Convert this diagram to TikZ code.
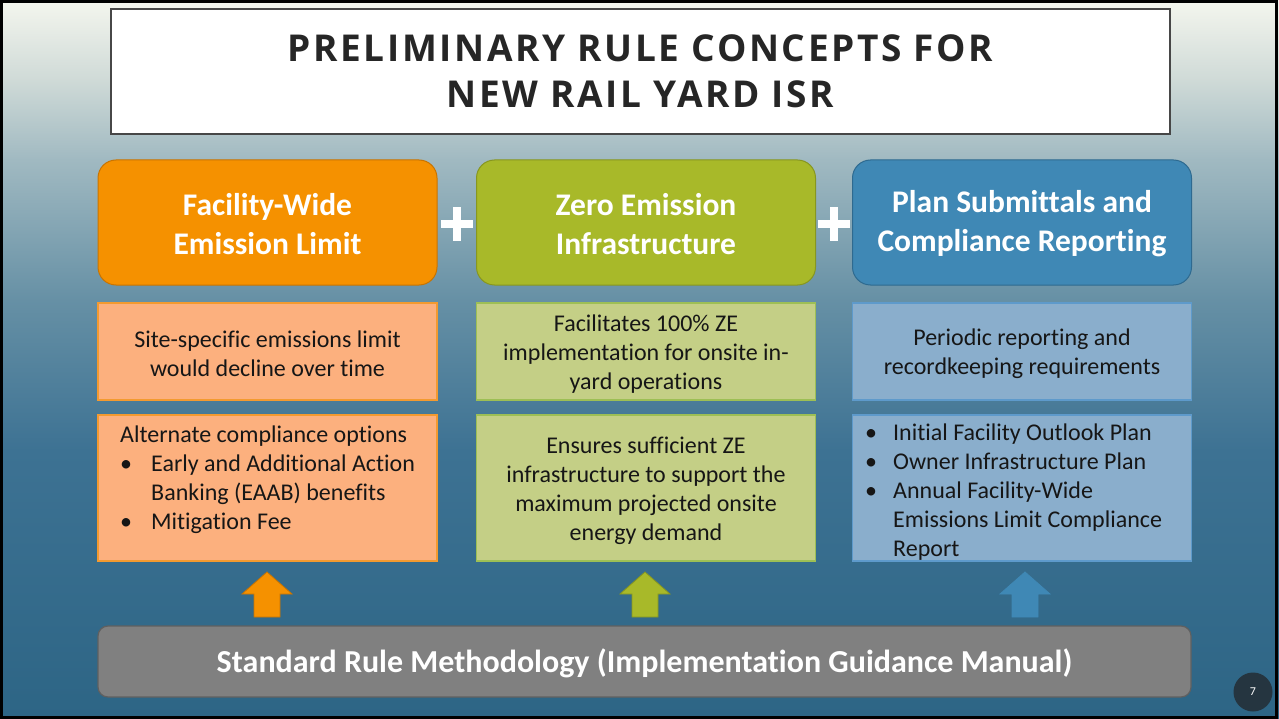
\documentclass[tikz,border=0pt]{standalone}
\usepackage{fontspec}
\setmainfont[Ligatures=NoCommon]{Carlito}
\newfontfamily\titlefont[LetterSpace=7]{Open Sans}
\definecolor{bgA}{HTML}{F4F6EE}
\definecolor{bgB}{HTML}{CFDAD7}
\definecolor{bgC}{HTML}{A0B9C1}
\definecolor{bgD}{HTML}{6690A5}
\definecolor{bgE}{HTML}{3D7293}
\definecolor{bgF}{HTML}{2D6585}
\definecolor{orT}{HTML}{F59100}
\definecolor{orTd}{HTML}{C97400}
\definecolor{orL}{HTML}{FCB07E}
\definecolor{orLd}{HTML}{F39A30}
\definecolor{grT}{HTML}{A8B929}
\definecolor{grTd}{HTML}{879620}
\definecolor{grL}{HTML}{C4CF86}
\definecolor{grLd}{HTML}{9DBF55}
\definecolor{blT}{HTML}{3F88B5}
\definecolor{blTd}{HTML}{2E6A90}
\definecolor{blL}{HTML}{8AAECC}
\definecolor{blLd}{HTML}{5E9ACB}
\definecolor{barG}{HTML}{808080}
\definecolor{barGd}{HTML}{606060}
\definecolor{txt}{HTML}{161616}
\definecolor{ttl}{HTML}{262626}
\definecolor{pgc}{HTML}{253540}
\newcommand\bulit{\makebox[31pt][l]{\textbullet}}
\newcommand\hang{\hspace*{31pt}}
\newcommand\uparr[3]{\filldraw[fill=#2,draw=#3,line width=0.8pt] (#1) ++(-13,0) -- ++(0,-23) -- ++(-12,0) -- ++(25,-22) -- ++(25,22) -- ++(-12,0) -- ++(0,23) -- cycle;}
\begin{document}
\begin{tikzpicture}[x=1pt,y=-1pt,
  topbox/.style={rounded corners=18pt, line width=1pt, minimum width=339pt, minimum height=125pt},
  toptext/.style={align=center, text=white, inner sep=0pt, font=\bfseries\fontsize{31.5}{39}\selectfont},
  midbox/.style={line width=1.2pt, minimum width=339pt, minimum height=97pt},
  lowbox/.style={line width=1.2pt, minimum width=339pt, minimum height=146pt},
  lowtext/.style={text=txt, font=\fontsize{24}{29}\selectfont, inner sep=0pt},
  plusline/.style={white, line width=8pt},
]
\useasboundingbox (0,0) rectangle (1279,719);
% background
\shade[top color=bgA, bottom color=bgB] (0,0) rectangle (1279,80.5);
\shade[top color=bgB, bottom color=bgC] (0,80) rectangle (1279,160.5);
\shade[top color=bgC, bottom color=bgD] (0,160) rectangle (1279,300.5);
\shade[top color=bgD, bottom color=bgE] (0,300) rectangle (1279,450.5);
\shade[top color=bgE, bottom color=bgF] (0,450) rectangle (1279,719);
\draw[black, line width=3pt] (1.5,1.5) rectangle (1276.5,717.5);
% title
\node[draw=ttl!85, line width=2.5pt, fill=white, minimum width=1059pt, minimum height=125pt, align=center, text=ttl, font=\titlefont\bfseries\fontsize{37}{46}\selectfont] (title) at (640.5,71.5) {PRELIMINARY RULE CONCEPTS FOR\\NEW RAIL YARD ISR};
% top boxes
\node[topbox, fill=orT, draw=orTd] (fw) at (267.5,222.5) {};
\node[topbox, fill=grT, draw=grTd] (ze) at (646,222.5) {};
\node[topbox, fill=blT, draw=blTd] (ps) at (1022,222.5) {};
\node[toptext] at ([yshift=-1.5pt]fw.center) {Facility-Wide\\Emission Limit};
\node[toptext] at ([yshift=-1.5pt]ze.center) {Zero Emission\\Infrastructure};
\node[toptext] at ([yshift=-1.5pt]ps.center) {Plan Submittals and\\Compliance Reporting};
% plus signs
\coordinate (p1) at (457,224);
\coordinate (p2) at (834,224);
\draw[plusline] ([xshift=-16pt]p1) -- ([xshift=16pt]p1);
\draw[plusline] ([yshift=-17pt]p1) -- ([yshift=17pt]p1);
\draw[plusline] ([xshift=-16pt]p2) -- ([xshift=16pt]p2);
\draw[plusline] ([yshift=-17pt]p2) -- ([yshift=17pt]p2);
% middle boxes
\node[midbox, fill=orL, draw=orLd] (m1) at (267.5,351.5) {};
\node[midbox, fill=grL, draw=grLd] (m2) at (646,351.5) {};
\node[midbox, fill=blL, draw=blLd] (m3) at (1022,351.5) {};
\node[lowtext, align=center] at ([yshift=-2pt]m1.center) {Site-specific emissions limit\\would decline over time};
\node[lowtext, align=center] at ([yshift=-3pt]m2.center) {Facilitates 100\% ZE\\implementation for onsite in-\\yard operations};
\node[lowtext, align=center] at ([yshift=-2pt]m3.center) {Periodic reporting and\\recordkeeping requirements};
% lower boxes
\node[lowbox, fill=orL, draw=orLd] (l1) at (267.5,488) {};
\node[lowbox, fill=grL, draw=grLd] (l2) at (646,488) {};
\node[lowbox, fill=blL, draw=blLd] (l3) at (1022,488) {};
\node[lowtext, anchor=north west, align=left] (t1) at (120,426) {Alternate compliance options\\ \bulit Early and Additional Action\\ \hang Banking (EAAB) benefits\\ \bulit Mitigation Fee};
\node[lowtext, align=center] (t2) at (646,491) {Ensures sufficient ZE\\infrastructure to support the\\maximum projected onsite\\energy demand};
\node[lowtext, anchor=north west, align=left] (t3) at (865,424) {\makebox[28pt][l]{\textbullet}Initial Facility Outlook Plan\\ \makebox[28pt][l]{\textbullet}Owner Infrastructure Plan\\ \makebox[28pt][l]{\textbullet}Annual Facility-Wide\\ \hspace*{28pt}Emissions Limit Compliance\\ \hspace*{28pt}Report};
% arrows
\coordinate (a1) at (267,617);
\coordinate (a2) at (645,617);
\coordinate (a3) at (1025,617);
\uparr{a1}{orT}{orTd}
\uparr{a2}{grT}{grTd}
\uparr{a3}{blT}{blT}
% bar
\node[rounded corners=10pt, fill=barG, draw=barGd, line width=1.2pt, minimum width=1093pt, minimum height=71pt] (bar) at (644.5,661.5) {};
\node[text=white, inner sep=0pt, font=\bfseries\fontsize{32}{36}\selectfont] at ([yshift=-1.5pt]bar.center) {Standard Rule Methodology (Implementation Guidance Manual)};
% page number
\node[circle, fill=pgc, minimum size=39pt, inner sep=0pt, text=white, font=\fontsize{12}{12}\selectfont] (pg) at (1253,692) {7};
\end{tikzpicture}
\end{document}
